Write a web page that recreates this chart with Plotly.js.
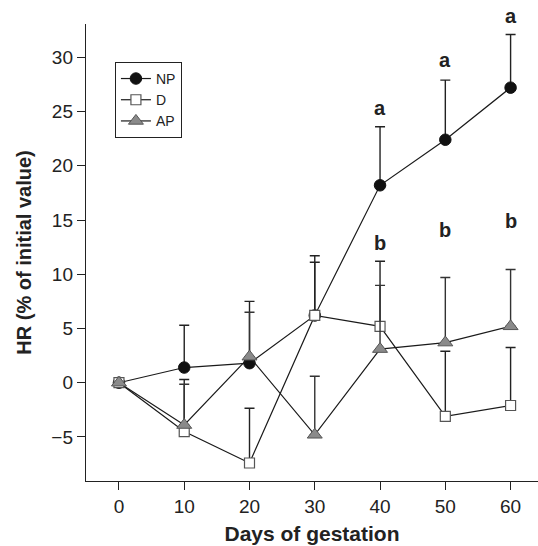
<!DOCTYPE html>
<html>
<head>
<meta charset="utf-8">
<script src="https://cdn.plot.ly/plotly-3.0.1.min.js"></script>
<style>html,body{margin:0;padding:0;background:#fff;}#chart{width:538px;height:546px;}</style>
</head>
<body>
<div id="chart"></div>
<script>
var days = [0, 10, 20, 30, 40, 50, 60];
var npMean = [0, 1.4, 1.8, 6.2, 18.2, 22.4, 27.2];
var npErr  = [0, 3.9, 5.7, 5.5, 5.4, 5.5, 4.9];
var dMean  = [0, -4.5, -7.4, 6.2, 5.2, -3.1, -2.1];
var dErr   = [0, 4.8, 5.05, 4.9, 6.0, 6.0, 5.35];
var apMean = [0, -3.9, 2.4, -4.8, 3.1, 3.7, 5.2];
var apErr  = [0, 3.76, 4.1, 5.4, 5.87, 6.0, 5.24];
var zeros  = [0, 0, 0, 0, 0, 0, 0];

var sigDays = [40, 50, 60, 40, 50, 60];
var sigY    = [25.3, 29.75, 33.8, 12.9, 14.1, 14.9];
var sigText = ['a', 'a', 'a', 'b', 'b', 'b'];

var xTicks = [0, 10, 20, 30, 40, 50, 60];
var yTicks = [-5, 0, 5, 10, 15, 20, 25, 30];
var xRange = [-5.05, 64.2];
var yRange = [-9.06, 33.07];

var FONT = 'Liberation Sans, Arial, Helvetica, sans-serif';

function errBar(arr, col) {
  return {type: 'data', symmetric: false, array: arr, arrayminus: zeros,
          color: col, thickness: 1.4, width: 5};
}

var traces = [
  {x: days, y: npMean, name: 'NP', type: 'scatter', mode: 'lines+markers',
   line: {color: '#1a1a1a', width: 1.2},
   marker: {symbol: 'circle', size: 11.5, color: '#111', line: {color: '#111', width: 1}},
   error_y: errBar(npErr, '#222')},
  {x: days, y: dMean, name: 'D', type: 'scatter', mode: 'lines+markers',
   line: {color: '#1a1a1a', width: 1.2},
   marker: {symbol: 'square', size: 10, color: '#fff', line: {color: '#555', width: 1.2}},
   error_y: errBar(dErr, '#222')},
  {x: days, y: apMean, name: 'AP', type: 'scatter', mode: 'lines+markers',
   line: {color: '#1a1a1a', width: 1.2},
   marker: {symbol: 'triangle-up', size: 13, color: '#8a8a8a', line: {color: '#555', width: 1}},
   error_y: errBar(apErr, '#333')}
];

// letters placed in paper space (converted from data values via the axis range) so they are not hidden outside the range
var annotations = sigText.map(function (t, i) {
  return {x: sigDays[i], xref: 'x',
          y: (sigY[i] - yRange[0]) / (yRange[1] - yRange[0]), yref: 'paper',
          text: t, showarrow: false,
          font: {family: FONT, size: 20, color: '#222', weight: 'bold'},
          yanchor: 'middle'};
});

var layout = {
  width: 538, height: 546,
  margin: {l: 86, r: 0, t: 24, b: 65},
  paper_bgcolor: '#fff', plot_bgcolor: '#fff',
  font: {family: FONT, size: 16, color: '#222'},
  showlegend: true,
  legend: {x: 0.064, y: 0.917, xanchor: 'left', yanchor: 'top',
           bordercolor: '#222', borderwidth: 1, bgcolor: '#fff',
           font: {family: FONT, size: 14, color: '#222'}, tracegroupgap: 0},
  xaxis: {range: xRange, tickvals: xTicks, ticks: 'outside', ticklen: 8,
          tickcolor: '#222', tickwidth: 1, showline: true, linecolor: '#222', linewidth: 1.2,
          showgrid: false, zeroline: false, tickfont: {size: 19, color: '#222'},
          title: {text: 'Days of gestation', font: {size: 21, color: '#222', weight: 'bold'}, standoff: 10}},
  yaxis: {range: yRange, tickvals: yTicks, ticks: 'outside', ticklen: 8,
          tickcolor: '#222', tickwidth: 1, showline: true, linecolor: '#222', linewidth: 1.2,
          showgrid: false, zeroline: false, tickfont: {size: 19, color: '#222'},
          title: {text: 'HR (% of initial value)', font: {size: 20, color: '#222', weight: 'bold'}, standoff: 14}},
  annotations: annotations
};

Plotly.newPlot('chart', traces, layout, {displayModeBar: false, staticPlot: true});
</script>
</body>
</html>
